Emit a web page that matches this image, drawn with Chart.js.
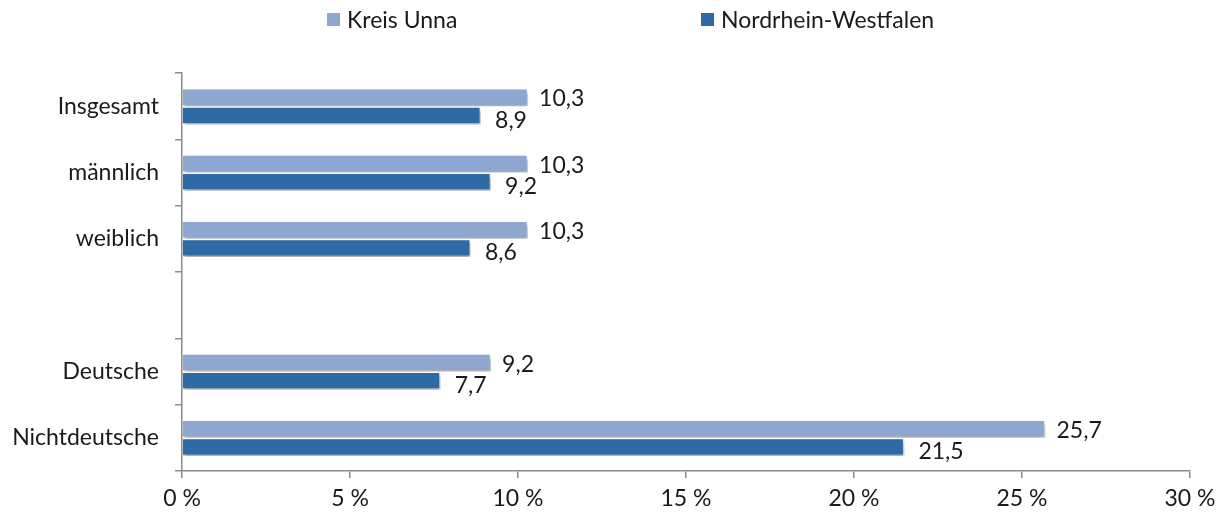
<!DOCTYPE html>
<html>
<head>
<meta charset="utf-8">
<script src="https://cdn.jsdelivr.net/npm/chart.js@4.4.0/dist/chart.umd.min.js"></script>
<style>
  html, body { margin: 0; padding: 0; background: #ffffff; }
  #wrap { width: 1225px; height: 518px; position: relative; }
</style>
</head>
<body>
<div id="wrap"><canvas id="c" width="1225" height="518"></canvas></div>
<script>
const categories = ["Insgesamt", "männlich", "weiblich", "", "Deutsche", "Nichtdeutsche"];
const seriesNames = ["Kreis Unna", "Nordrhein-Westfalen"];
const kreisUnna = [10.3, 10.3, 10.3, null, 9.2, 25.7];
const nrw = [8.9, 9.2, 8.6, null, 7.7, 21.5];
const xTicks = [0, 5, 10, 15, 20, 25, 30];

const colors = ["#8DA7D1", "#2E6BA6"];
const FONT = "Lato, 'Open Sans', sans-serif";
const textColor = "#1a1a1a";
const axisColor = "#8c8c8c";
const FS = 23;

const shadowPlugin = {
  id: "barShadow",
  beforeDatasetDraw(chart) {
    const ctx = chart.ctx;
    ctx.save();
    ctx.shadowColor = "rgba(0,0,0,0.35)";
    ctx.shadowBlur = 4;
    ctx.shadowOffsetX = 1;
    ctx.shadowOffsetY = 3;
  },
  afterDatasetDraw(chart) {
    chart.ctx.restore();
  }
};

const labelPlugin = {
  id: "valueLabels",
  afterDatasetsDraw(chart) {
    const ctx = chart.ctx;
    ctx.save();
    ctx.font = FS + "px " + FONT;
    ctx.fillStyle = textColor;
    ctx.textAlign = "left";
    ctx.textBaseline = "middle";
    const offs = [{dx: 11, dy: 2}, {dx: 14, dy: 5}];
    chart.data.datasets.forEach((ds, di) => {
      const meta = chart.getDatasetMeta(di);
      meta.data.forEach((el, i) => {
        const v = ds.data[i];
        if (v === null || v === undefined) return;
        const txt = v.toFixed(1).replace(".", ",");
        ctx.fillText(txt, el.x + offs[di].dx, el.y + offs[di].dy);
      });
    });
    ctx.restore();
  }
};

const legendPlugin = {
  id: "customLegend",
  afterDraw(chart) {
    const ctx = chart.ctx;
    ctx.save();
    ctx.font = FS + "px " + FONT;
    ctx.textBaseline = "middle";
    ctx.textAlign = "left";
    const xs = [327, 701];
    const y = 20;
    chart.data.datasets.forEach((ds, i) => {
      ctx.fillStyle = ds.backgroundColor;
      ctx.fillRect(xs[i], y - 7, 13, 13);
      ctx.fillStyle = textColor;
      ctx.fillText(ds.label, xs[i] + 20, y + 1);
    });
    ctx.restore();
  }
};

new Chart(document.getElementById("c"), {
  type: "bar",
  data: {
    labels: categories,
    datasets: [
      { label: seriesNames[0], data: kreisUnna, backgroundColor: colors[0], borderColor: "#ffffff", borderWidth: 1.5, categoryPercentage: 0.55, barPercentage: 1.0 },
      { label: seriesNames[1], data: nrw, backgroundColor: colors[1], borderColor: "#ffffff", borderWidth: 1.5, categoryPercentage: 0.55, barPercentage: 1.0 }
    ]
  },
  options: {
    indexAxis: "y",
    responsive: false,
    animation: false,
    devicePixelRatio: 1,
    layout: { padding: { top: 73, right: 35, left: 0, bottom: 0 } },
    plugins: {
      legend: { display: false },
      tooltip: { enabled: false }
    },
    scales: {
      x: {
        min: 0, max: 30,
        afterBuildTicks(scale) { scale.ticks = xTicks.map(v => ({ value: v })); },
        afterFit(scale) { scale.height = 47; },
        border: { display: true, color: axisColor, width: 1.5 },
        grid: { drawOnChartArea: false, drawTicks: true, tickLength: 7, color: axisColor, lineWidth: 1.5 },
        ticks: {
          color: textColor,
          font: { family: FONT, size: FS },
          padding: 7,
          maxRotation: 0,
          callback: (v) => v + " %"
        }
      },
      y: {
        afterFit(scale) { scale.width = 182; },
        border: { display: true, color: axisColor, width: 1.5 },
        grid: { drawOnChartArea: false, drawTicks: true, tickLength: 7, color: axisColor, lineWidth: 1.5, offset: true },
        ticks: {
          color: textColor,
          font: { family: FONT, size: FS },
          padding: 16
        }
      }
    }
  },
  plugins: [shadowPlugin, labelPlugin, legendPlugin]
});
</script>
</body>
</html>
